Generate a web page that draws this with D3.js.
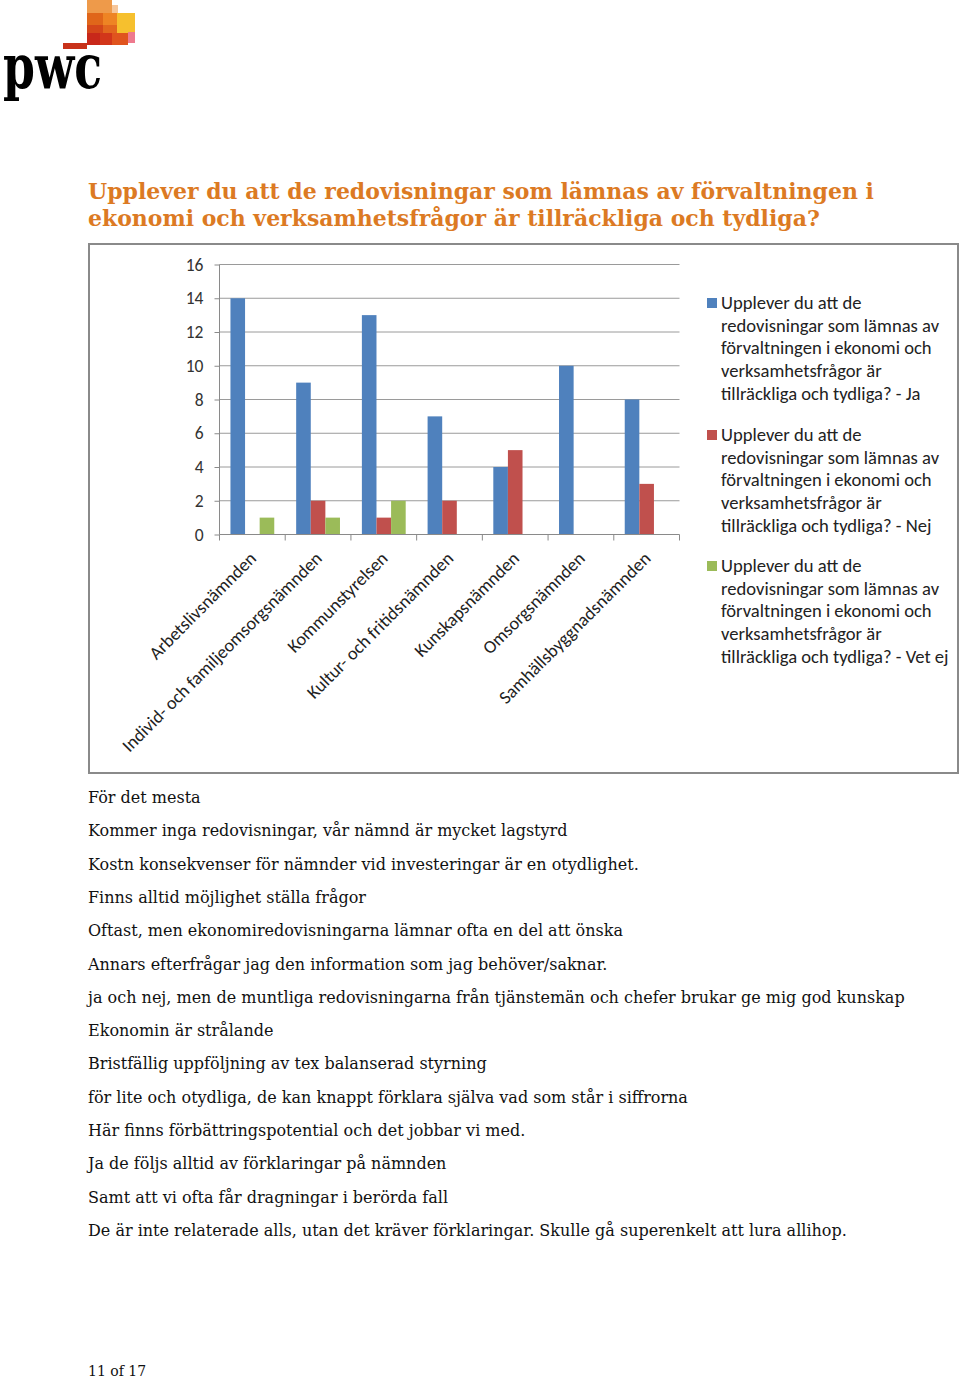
<!DOCTYPE html>
<html><head><meta charset="utf-8">
<script src="https://cdn.jsdelivr.net/npm/d3@7"></script>
<style>
body{margin:0;background:#fff;}
svg{display:block;}
</style></head>
<body>
<svg id="page" width="960" height="1380"></svg>
<script>
const categories = ["Arbetslivsnämnden","Individ- och familjeomsorgsnämnden","Kommunstyrelsen","Kultur- och fritidsnämnden","Kunskapsnämnden","Omsorgsnämnden","Samhällsbyggnadsnämnden"];
const seriesNames = [
  "Upplever du att de redovisningar som lämnas av förvaltningen i ekonomi och verksamhetsfrågor är tillräckliga och tydliga? - Ja",
  "Upplever du att de redovisningar som lämnas av förvaltningen i ekonomi och verksamhetsfrågor är tillräckliga och tydliga? - Nej",
  "Upplever du att de redovisningar som lämnas av förvaltningen i ekonomi och verksamhetsfrågor är tillräckliga och tydliga? - Vet ej"
];
const legendLines = [
  ["Upplever du att de","redovisningar som lämnas av","förvaltningen i ekonomi och","verksamhetsfrågor är","tillräckliga och tydliga? - Ja"],
  ["Upplever du att de","redovisningar som lämnas av","förvaltningen i ekonomi och","verksamhetsfrågor är","tillräckliga och tydliga? - Nej"],
  ["Upplever du att de","redovisningar som lämnas av","förvaltningen i ekonomi och","verksamhetsfrågor är","tillräckliga och tydliga? - Vet ej"]
];
const valuesJa = [14, 9, 13, 7, 4, 10, 8];
const valuesNej = [0, 2, 1, 2, 5, 0, 3];
const valuesVetEj = [1, 1, 2, 0, 0, 0, 0];
const yTicks = [0, 2, 4, 6, 8, 10, 12, 14, 16];
const colors = ["#4F81BD", "#C0504D", "#9BBB59"];
const titleLines = ["Upplever du att de redovisningar som lämnas av förvaltningen i","ekonomi och verksamhetsfrågor är tillräckliga och tydliga?"];
const comments = [
  "För det mesta",
  "Kommer inga redovisningar, vår nämnd är mycket lagstyrd",
  "Kostn konsekvenser för nämnder vid investeringar är en otydlighet.",
  "Finns alltid möjlighet ställa frågor",
  "Oftast, men ekonomiredovisningarna lämnar ofta en del att önska",
  "Annars efterfrågar jag den information som jag behöver/saknar.",
  "ja och nej, men de muntliga redovisningarna från tjänstemän och chefer brukar ge mig god kunskap",
  "Ekonomin är strålande",
  "Bristfällig uppföljning av tex balanserad styrning",
  "för lite och otydliga, de kan knappt förklara själva vad som står i siffrorna",
  "Här finns förbättringspotential och det jobbar vi med.",
  "Ja de följs alltid av förklaringar på nämnden",
  "Samt att vi ofta får dragningar i berörda fall",
  "De är inte relaterade alls, utan det kräver förklaringar. Skulle gå superenkelt att lura allihop."
];
const pageLabel = "11 of 17";

const svg = d3.select("#page");
const serif = "Georgia, 'DejaVu Serif', 'Liberation Serif', serif";
const sans = "Carlito, Lato, 'Open Sans', sans-serif";

// ---- Logo ----
const logo = svg.append("g");
const blocks = [
  [87,0,25,13,"#EE9A4A"],[112,5,6,8,"#F6C69A"],
  [87,13,16,12,"#E0661A"],[103,13,14,12,"#EE8424"],[117,13,18,20,"#F6C02E"],
  [87,25,16,8,"#D4461A"],[103,25,14,8,"#E2661E"],
  [87,33,13,12,"#C8281A"],[100,33,12,12,"#D2361A"],[112,33,16,12,"#E0541E"],[128,32,7,11,"#EE7A8E"],
  [63,43,24,6,"#C8321A"]
];
logo.selectAll("rect").data(blocks).join("rect")
  .attr("x",d=>d[0]).attr("y",d=>d[1]).attr("width",d=>d[2]).attr("height",d=>d[3]).attr("fill",d=>d[4]);
logo.append("text").attr("x",3).attr("y",88).attr("font-family",serif).attr("font-weight","bold")
  .attr("font-size",62).attr("textLength",99).attr("lengthAdjust","spacingAndGlyphs").attr("fill","#000").text("pwc");

// ---- Title ----
const titleWidth = 786;
const titleG = svg.append("g");
const t1 = titleG.append("text").attr("x",88).attr("y",199)
  .attr("font-family",serif).attr("font-weight","bold").attr("font-size",25)
  .attr("fill","#DC7A23").text(titleLines[0]);
const natural = t1.node().getComputedTextLength();
const titleSize = 25 * titleWidth / natural;
t1.attr("font-size", titleSize);
titleG.append("text").attr("x",88).attr("y",226)
  .attr("font-family",serif).attr("font-weight","bold").attr("font-size",titleSize)
  .attr("fill","#DC7A23").text(titleLines[1]);

// ---- Chart frame ----
svg.append("rect").attr("x",89).attr("y",244).attr("width",869).attr("height",529)
  .attr("fill","#fff").attr("stroke","#8a8a8a").attr("stroke-width",2);

const x0 = 219.5, x1 = 679.5, yTop = 264.5, yBot = 534.5;
const x = d3.scaleBand().domain(categories).range([x0, x1]).paddingInner(0).paddingOuter(0);
const y = d3.scaleLinear().domain([0,16]).range([yBot, yTop]);
const bw = x.bandwidth()/4.5;
const xs = d3.scaleBand().domain([0,1,2]).range([0.75*bw, 3.75*bw]);

const chart = svg.append("g");
// gridlines
chart.append("g").selectAll("line").data(yTicks.filter(t=>t>0)).join("line")
  .attr("x1",x0).attr("x2",x1).attr("y1",d=>y(d)).attr("y2",d=>y(d))
  .attr("stroke","#9a9a9a").attr("stroke-width",1);

// y axis
const yAxis = chart.append("g").attr("transform",`translate(${x0},0)`)
  .call(d3.axisLeft(y).tickValues(yTicks).tickSize(5).tickPadding(11));
yAxis.select(".domain").attr("stroke","#8a8a8a").attr("d",`M0,${yTop}V${yBot}`);
yAxis.selectAll(".tick line").attr("stroke","#8a8a8a");
yAxis.selectAll(".tick text").attr("font-family",sans).attr("font-size",17.5).attr("fill","#333");

// bars
const series = [valuesJa, valuesNej, valuesVetEj];
series.forEach((vals, si) => {
  chart.append("g").selectAll("rect").data(vals.map((v,i)=>({v, c:categories[i]}))).join("rect")
    .attr("x", d => x(d.c) + xs(si))
    .attr("y", d => y(d.v))
    .attr("width", xs.bandwidth())
    .attr("height", d => yBot - y(d.v))
    .attr("fill", colors[si]);
});

// x axis
const xAxisG = chart.append("g").attr("transform",`translate(0,${yBot})`);
xAxisG.append("line").attr("x1",x0).attr("x2",x1).attr("stroke","#8a8a8a");
const bounds = categories.map(c=>x(c)).concat([x1]);
xAxisG.selectAll("line.tk").data(bounds).join("line").attr("class","tk")
  .attr("x1",d=>d).attr("x2",d=>d).attr("y1",0).attr("y2",6).attr("stroke","#8a8a8a");
xAxisG.selectAll("text").data(categories).join("text")
  .attr("transform", d => `translate(${x(d)+x.bandwidth()/2+5},${25}) rotate(-45)`)
  .attr("text-anchor","end")
  .attr("font-family",sans).attr("font-size",18.2).attr("fill","#222")
  .text(d=>d);

// legend
const leg = svg.append("g");
const groupY = [303, 435, 566];
legendLines.forEach((lines, si) => {
  const g = leg.append("g").attr("transform",`translate(707,${groupY[si]})`);
  g.append("rect").attr("x",0).attr("y",-5).attr("width",10).attr("height",10).attr("fill",colors[si]);
  g.selectAll("text").data(lines).join("text")
    .attr("x",14).attr("y",(d,i)=>6+i*22.7)
    .attr("font-family",sans).attr("font-size",18.6).attr("fill","#222")
    .text(d=>d);
});

// comments
svg.append("g").selectAll("text").data(comments).join("text")
  .attr("x",88).attr("y",(d,i)=>803+i*33.3)
  .attr("font-family",serif).attr("font-size",16).attr("fill","#111")
  .text(d=>d);

svg.append("text").attr("x",88).attr("y",1376).attr("font-family",serif).attr("font-size",14)
  .attr("fill","#111").text(pageLabel);
</script>
</body></html>
